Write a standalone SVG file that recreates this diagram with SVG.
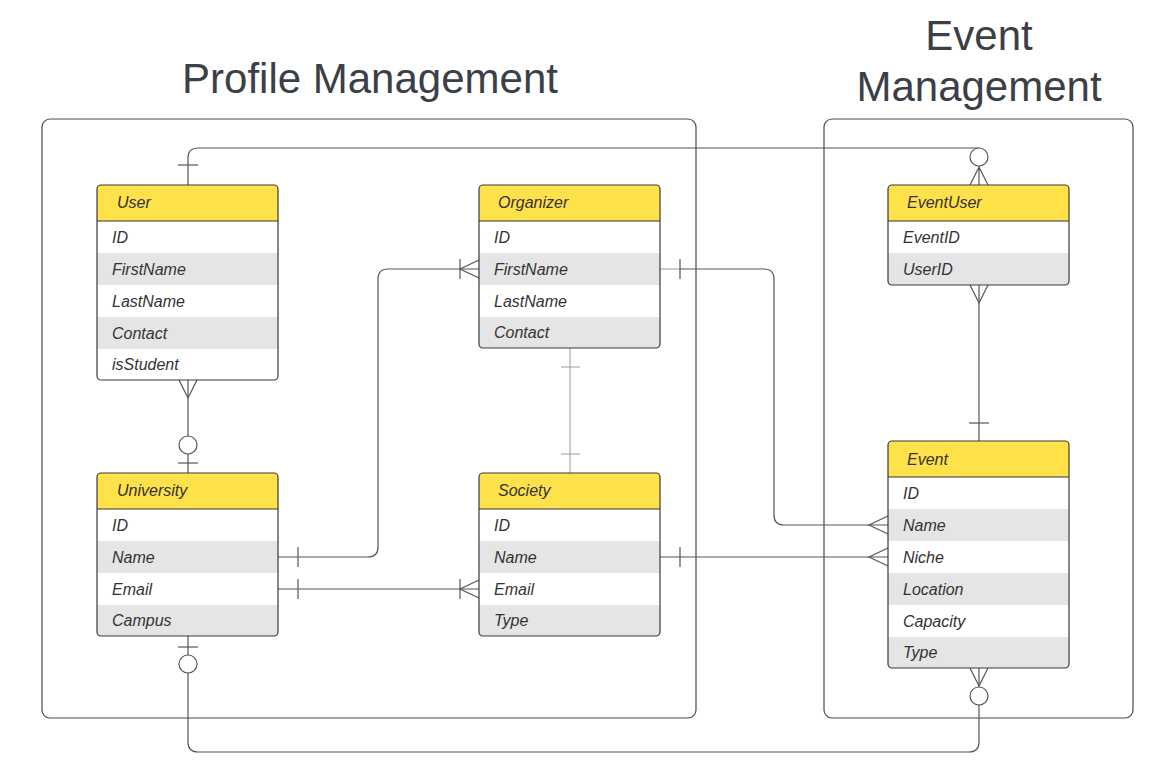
<svg xmlns="http://www.w3.org/2000/svg" width="1164" height="772" viewBox="0 0 1164 772">
<defs>
<style>
.title{font-family:"Liberation Sans",Arial,sans-serif;font-size:42px;fill:#3a3f48}
.frame{fill:none;stroke:#4a4a4a;stroke-width:1.2}
.hdr{fill:#ffe14a}
.alt{fill:#e5e5e5}
.wht{fill:#ffffff}
.box{fill:none;stroke:#3a3a3a;stroke-width:1.2}
.div{stroke:#333;stroke-width:1.2}
.ht{font-family:"Liberation Sans",Arial,sans-serif;font-size:16px;font-style:italic;fill:#333}
.rt{font-family:"Liberation Sans",Arial,sans-serif;font-size:16px;font-style:italic;fill:#333}
.cn{fill:none;stroke:#555;stroke-width:1.2}
.cl{fill:none;stroke:#9a9a9a;stroke-width:1}
.ci{fill:#fff;stroke:#555;stroke-width:1.2}
</style>
<clipPath id="cUser"><rect x="97" y="185" width="181" height="195" rx="4"/></clipPath>
<clipPath id="cOrg"><rect x="479" y="185" width="181" height="163" rx="4"/></clipPath>
<clipPath id="cUni"><rect x="97" y="473" width="181" height="163" rx="4"/></clipPath>
<clipPath id="cSoc"><rect x="479" y="473" width="181" height="163" rx="4"/></clipPath>
<clipPath id="cEU"><rect x="888" y="185" width="181" height="100" rx="4"/></clipPath>
<clipPath id="cEv"><rect x="888" y="441" width="181" height="227" rx="4"/></clipPath>
</defs>
<rect width="1164" height="772" fill="#fff"/>

<g id="profile-management">
<rect class="frame" x="42" y="119" width="654" height="599" rx="8"/>
<text class="title" x="370" y="93" text-anchor="middle">Profile Management</text>
</g>
<g id="event-management">
<rect class="frame" x="824" y="119" width="309" height="599" rx="8"/>
<text class="title" x="979" y="50" text-anchor="middle">Event</text>
<text class="title" x="979" y="101" text-anchor="middle">Management</text>
</g>

<g id="connectors">
<!-- User to EventUser -->
<path class="cn" d="M188,185 V158 Q188,148 198,148 H979"/>
<line class="cn" x1="178" y1="165" x2="198" y2="165"/>
<path class="cn" d="M979,166 V185 M970,185 L979,167 L988,185"/>
<circle class="ci" cx="979" cy="157" r="9"/>
<!-- User to University -->
<path class="cn" d="M188,380 V473"/>
<path class="cn" d="M179,380 L188,398 L197,380"/>
<circle class="ci" cx="188" cy="445" r="9"/>
<line class="cn" x1="178" y1="463" x2="198" y2="463"/>
<!-- University Name to Organizer FirstName -->
<path class="cn" d="M278,557 H368 Q378,557 378,547 V279 Q378,269 388,269 H479"/>
<line class="cn" x1="298" y1="547" x2="298" y2="567"/>
<line class="cn" x1="460" y1="259" x2="460" y2="279"/>
<path class="cn" d="M479,260 L460,269 L479,278"/>
<!-- University Email to Society Email -->
<path class="cn" d="M278,589 H479"/>
<line class="cn" x1="298" y1="579" x2="298" y2="599"/>
<line class="cn" x1="460" y1="579" x2="460" y2="599"/>
<path class="cn" d="M479,580 L460,589 L479,598"/>
<!-- Organizer to Society -->
<path class="cl" d="M570,348 V473"/>
<line class="cl" x1="561" y1="367" x2="580" y2="367"/>
<line class="cl" x1="561" y1="454" x2="580" y2="454"/>
<!-- Organizer FirstName to Event Name -->
<path class="cl" d="M660,269 H680"/>
<path class="cn" d="M680,269 H764 Q774,269 774,279 V515 Q774,525 784,525 H888"/>
<line class="cn" x1="680" y1="259" x2="680" y2="279"/>
<path class="cn" d="M888,516 L869,525 L888,534"/>
<!-- Society Name to Event Niche -->
<path class="cn" d="M660,557 H888"/>
<line class="cn" x1="680" y1="547" x2="680" y2="567"/>
<path class="cn" d="M888,548 L869,557 L888,566"/>
<!-- EventUser to Event -->
<path class="cn" d="M979,285 V441"/>
<path class="cn" d="M970,285 L979,303 L988,285"/>
<line class="cn" x1="969" y1="423" x2="989" y2="423"/>
<!-- University to Event -->
<path class="cn" d="M188,636 V742 Q188,752 198,752 H969 Q979,752 979,742 V668"/>
<line class="cn" x1="178" y1="647" x2="198" y2="647"/>
<circle class="ci" cx="188" cy="664" r="9"/>
<path class="cn" d="M970,668 L979,686 L988,668"/>
<circle class="ci" cx="979" cy="696" r="9"/>
</g>

<g id="user">
<g clip-path="url(#cUser)">
<rect class="hdr" x="97" y="185" width="181" height="36"/>
<rect class="wht" x="97" y="221" width="181" height="32"/>
<rect class="alt" x="97" y="253" width="181" height="32"/>
<rect class="wht" x="97" y="285" width="181" height="32"/>
<rect class="alt" x="97" y="317" width="181" height="32"/>
<rect class="wht" x="97" y="349" width="181" height="31"/>
</g>
<line class="div" x1="97" y1="221" x2="278" y2="221"/>
<rect class="box" x="97" y="185" width="181" height="195" rx="4"/>
<text class="ht" x="117" y="208">User</text>
<text class="rt" x="112" y="243">ID</text>
<text class="rt" x="112" y="275">FirstName</text>
<text class="rt" x="112" y="307">LastName</text>
<text class="rt" x="112" y="339">Contact</text>
<text class="rt" x="112" y="370">isStudent</text>
</g>

<g id="organizer">
<g clip-path="url(#cOrg)">
<rect class="hdr" x="479" y="185" width="181" height="36"/>
<rect class="wht" x="479" y="221" width="181" height="32"/>
<rect class="alt" x="479" y="253" width="181" height="32"/>
<rect class="wht" x="479" y="285" width="181" height="32"/>
<rect class="alt" x="479" y="317" width="181" height="31"/>
</g>
<line class="div" x1="479" y1="221" x2="660" y2="221"/>
<rect class="box" x="479" y="185" width="181" height="163" rx="4"/>
<text class="ht" x="498" y="208">Organizer</text>
<text class="rt" x="494" y="243">ID</text>
<text class="rt" x="494" y="275">FirstName</text>
<text class="rt" x="494" y="307">LastName</text>
<text class="rt" x="494" y="338">Contact</text>
</g>

<g id="university">
<g clip-path="url(#cUni)">
<rect class="hdr" x="97" y="473" width="181" height="36"/>
<rect class="wht" x="97" y="509" width="181" height="32"/>
<rect class="alt" x="97" y="541" width="181" height="32"/>
<rect class="wht" x="97" y="573" width="181" height="32"/>
<rect class="alt" x="97" y="605" width="181" height="31"/>
</g>
<line class="div" x1="97" y1="509" x2="278" y2="509"/>
<rect class="box" x="97" y="473" width="181" height="163" rx="4"/>
<text class="ht" x="117" y="496">University</text>
<text class="rt" x="112" y="531">ID</text>
<text class="rt" x="112" y="563">Name</text>
<text class="rt" x="112" y="595">Email</text>
<text class="rt" x="112" y="626">Campus</text>
</g>

<g id="society">
<g clip-path="url(#cSoc)">
<rect class="hdr" x="479" y="473" width="181" height="36"/>
<rect class="wht" x="479" y="509" width="181" height="32"/>
<rect class="alt" x="479" y="541" width="181" height="32"/>
<rect class="wht" x="479" y="573" width="181" height="32"/>
<rect class="alt" x="479" y="605" width="181" height="31"/>
</g>
<line class="div" x1="479" y1="509" x2="660" y2="509"/>
<rect class="box" x="479" y="473" width="181" height="163" rx="4"/>
<text class="ht" x="498" y="496">Society</text>
<text class="rt" x="494" y="531">ID</text>
<text class="rt" x="494" y="563">Name</text>
<text class="rt" x="494" y="595">Email</text>
<text class="rt" x="494" y="626">Type</text>
</g>

<g id="eventuser">
<g clip-path="url(#cEU)">
<rect class="hdr" x="888" y="185" width="181" height="36"/>
<rect class="wht" x="888" y="221" width="181" height="32"/>
<rect class="alt" x="888" y="253" width="181" height="32"/>
</g>
<line class="div" x1="888" y1="221" x2="1069" y2="221"/>
<rect class="box" x="888" y="185" width="181" height="100" rx="4"/>
<text class="ht" x="907" y="208">EventUser</text>
<text class="rt" x="903" y="243">EventID</text>
<text class="rt" x="903" y="275">UserID</text>
</g>

<g id="event">
<g clip-path="url(#cEv)">
<rect class="hdr" x="888" y="441" width="181" height="36"/>
<rect class="wht" x="888" y="477" width="181" height="32"/>
<rect class="alt" x="888" y="509" width="181" height="32"/>
<rect class="wht" x="888" y="541" width="181" height="32"/>
<rect class="alt" x="888" y="573" width="181" height="32"/>
<rect class="wht" x="888" y="605" width="181" height="32"/>
<rect class="alt" x="888" y="637" width="181" height="31"/>
</g>
<line class="div" x1="888" y1="477" x2="1069" y2="477"/>
<rect class="box" x="888" y="441" width="181" height="227" rx="4"/>
<text class="ht" x="907" y="465">Event</text>
<text class="rt" x="903" y="499">ID</text>
<text class="rt" x="903" y="531">Name</text>
<text class="rt" x="903" y="563">Niche</text>
<text class="rt" x="903" y="595">Location</text>
<text class="rt" x="903" y="627">Capacity</text>
<text class="rt" x="903" y="658">Type</text>
</g>
</svg>
